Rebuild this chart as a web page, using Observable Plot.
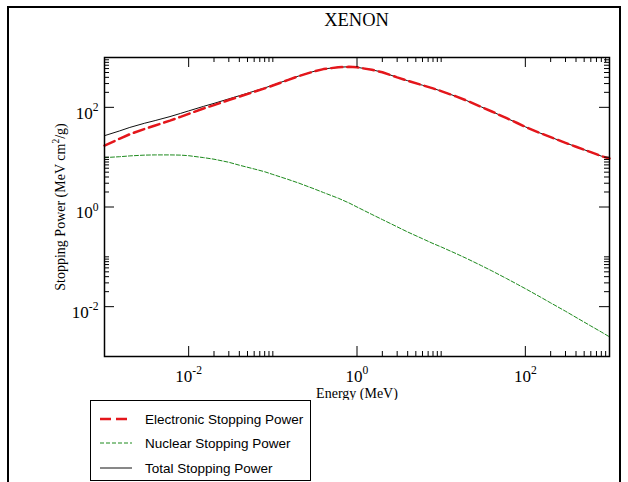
<!DOCTYPE html>
<html><head><meta charset="utf-8">
<script src="https://cdn.jsdelivr.net/npm/d3@7"></script>
<script src="https://cdn.jsdelivr.net/npm/@observablehq/plot@0.6"></script>
<style>
body{margin:0;background:#fff;}
#wrap{position:relative;width:628px;height:482px;overflow:hidden;font-family:"Liberation Serif","Times New Roman",serif;}
#border{position:absolute;left:7px;top:6px;width:614px;height:540px;border:2px solid #000;box-sizing:border-box;}
#title{position:absolute;left:104px;width:505px;top:11px;text-align:center;font-size:18.5px;line-height:18px;}
#chart{position:absolute;left:0;top:0;}
#legend{position:absolute;left:90px;top:400px;width:221px;height:81px;border:1px solid #000;box-sizing:border-box;font-family:"Liberation Sans",Arial,sans-serif;font-size:13.5px;background:#fff;}
.row{position:absolute;left:0;height:20px;display:flex;align-items:center;}
.row svg{margin-left:9px;margin-right:13px;}
</style></head>
<body>
<div id="wrap">
  <div id="border"></div>
  <div id="title"></div>
  <div id="chart"></div>
  <div id="legend"></div>
</div>
<script>
// ---- data ----
const titleText = "XENON";
const xTitle = "Energy (MeV)";
const yTitle = "Stopping Power (MeV cm^2/g)";
const energy = [0.001,0.0015,0.002,0.003,0.004,0.006,0.008,0.01,0.015,0.02,0.03,0.04,0.06,0.08,0.1,0.15,0.2,0.3,0.4,0.6,0.8,1,1.5,2,3,4,6,8,10,15,20,30,40,60,80,100,150,200,300,400,600,800,1000];
const electronic = [17.1,23.3,28.9,36.9,43.2,54.1,64.5,74.1,94.7,111,140,164,205,240,274,351,419,518,585,637,650,635,566,507,399,342,278,240,212,166,137,102,82.5,60.5,48.5,40.6,30.4,25.2,19.4,16.2,12.6,10.5,9.4];
const nuclear = [9.8,10.2,10.6,11.0,11.1,11.1,11.0,10.7,9.8,9.1,7.9,6.9,5.8,5.1,4.5,3.6,3.05,2.36,1.95,1.5,1.21,1.0,0.71,0.56,0.40,0.315,0.231,0.185,0.158,0.1164,0.093,0.0667,0.0523,0.0366,0.0282,0.023,0.0157,0.0119,0.0081,0.0061,0.0041,0.0031,0.00248];
const total = [27,33.5,39.5,48,54.3,65.2,75.5,84.8,104.5,120,148,171,211,245,279,355,422,520,587,639,651,636,567,508,399,342,278,240,212,166,137,102,82.5,60.5,48.5,40.6,30.4,25.2,19.4,16.2,12.6,10.5,9.4];
const majorTicks = [1e-2, 1, 1e2];
const minorTicks = [2e-2,3e-2,4e-2,5e-2,6e-2,7e-2,8e-2,9e-2,1e-1,2,3,4,5,6,7,8,9,10,200,300,400,500,600,700,800,900,1000];
const seriesNames = ["Electronic Stopping Power","Nuclear Stopping Power","Total Stopping Power"];

// ---- styles ----
const style = {
  electronic:{stroke:"#e4161b", width:2.5, dash:"11,5"},
  nuclear:{stroke:"#1d8a1d", width:1, dash:"4,2"},
  total:{stroke:"#111", width:1, dash:null}
};

const rows = energy.map((e,i)=>({energy:e, electronic:electronic[i], nuclear:nuclear[i], total:total[i]}));

const W=628, H=400, mT=57, mB=44, mL=104, mR=19;
const pH=H-mT-mB, pW=W-mL-mR;
const fmt = d => `10^${Math.round(Math.log10(d))}`;

document.getElementById("title").textContent = titleText;

const chart = Plot.plot({
  width:W, height:H, marginTop:mT, marginBottom:mB, marginLeft:mL, marginRight:mR,
  style:{fontFamily:'"Liberation Serif","Times New Roman",serif', background:"transparent", color:"#000"},
  x:{type:"log", domain:[1e-3,1e3]},
  y:{type:"log", domain:[1e-3,1e3]},
  marks:[
    Plot.line(rows,{x:"energy", y:"total", stroke:style.total.stroke, strokeWidth:style.total.width}),
    Plot.line(rows,{x:"energy", y:"nuclear", stroke:style.nuclear.stroke, strokeWidth:style.nuclear.width, strokeDasharray:style.nuclear.dash}),
    Plot.line(rows,{x:"energy", y:"electronic", stroke:style.electronic.stroke, strokeWidth:style.electronic.width, strokeDasharray:style.electronic.dash}),
    // inward ticks, all four sides
    Plot.tickX(majorTicks,{x:d=>d, insetTop:pH-10, stroke:"#000"}),
    Plot.tickX(majorTicks,{x:d=>d, insetBottom:pH-10, stroke:"#000"}),
    Plot.tickX(minorTicks,{x:d=>d, insetTop:pH-5, stroke:"#000"}),
    Plot.tickX(minorTicks,{x:d=>d, insetBottom:pH-5, stroke:"#000"}),
    Plot.tickY(majorTicks,{y:d=>d, insetRight:pW-10, stroke:"#000"}),
    Plot.tickY(majorTicks,{y:d=>d, insetLeft:pW-10, stroke:"#000"}),
    Plot.tickY(minorTicks,{y:d=>d, insetRight:pW-5, stroke:"#000"}),
    Plot.tickY(minorTicks,{y:d=>d, insetLeft:pW-5, stroke:"#000"}),
    Plot.axisX({ticks:majorTicks, tickSize:0, tickPadding:13, tickFormat:fmt, fontSize:17, label:null}),
    Plot.axisY({ticks:majorTicks, tickSize:0, tickPadding:6, tickFormat:fmt, fontSize:17, dy:6, label:null}),
    Plot.text([xTitle],{text:d=>d, frameAnchor:"bottom", textAnchor:"middle", dy:41, fontSize:14}),
    Plot.text([yTitle],{text:d=>d, frameAnchor:"left", textAnchor:"middle", rotate:-90, dx:-44, fontSize:14}),
    Plot.frame({stroke:"#000", strokeWidth:1.5})
  ]
});
document.getElementById("chart").appendChild(chart);

// superscripts as real tspans
const ns = "http://www.w3.org/2000/svg";
chart.querySelectorAll("text").forEach(t=>{
  const s = t.textContent;
  const m = s.match(/^(.*?)\^([^\/\s]+)(.*)$/);
  if(!m) return;
  const fs = parseFloat(getComputedStyle(t).fontSize) || 16;
  while(t.firstChild) t.removeChild(t.firstChild);
  const a = document.createElementNS(ns,"tspan"); a.textContent = m[1]; t.appendChild(a);
  const b = document.createElementNS(ns,"tspan"); b.textContent = m[2];
  b.setAttribute("dy", (-0.46*fs).toFixed(1)); b.setAttribute("font-size", (0.68*fs).toFixed(1)); t.appendChild(b);
  if(m[3]){ const c = document.createElementNS(ns,"tspan"); c.textContent = m[3]; c.setAttribute("dy",(0.46*fs).toFixed(1)); t.appendChild(c); }
});

// legend
const legend = document.getElementById("legend");
const keys = ["electronic","nuclear","total"];
const rowTops = [8, 32, 57];
keys.forEach((k,i)=>{
  const r = document.createElement("div"); r.className="row"; r.style.top = rowTops[i]+"px";
  const st = style[k];
  r.innerHTML = `<svg width="32" height="6"><line x1="0" y1="3" x2="32" y2="3" stroke="${st.stroke}" stroke-width="${st.width}" ${st.dash?`stroke-dasharray="${st.dash}"`:""}/></svg><span>${seriesNames[i]}</span>`;
  legend.appendChild(r);
});
</script>
</body></html>
